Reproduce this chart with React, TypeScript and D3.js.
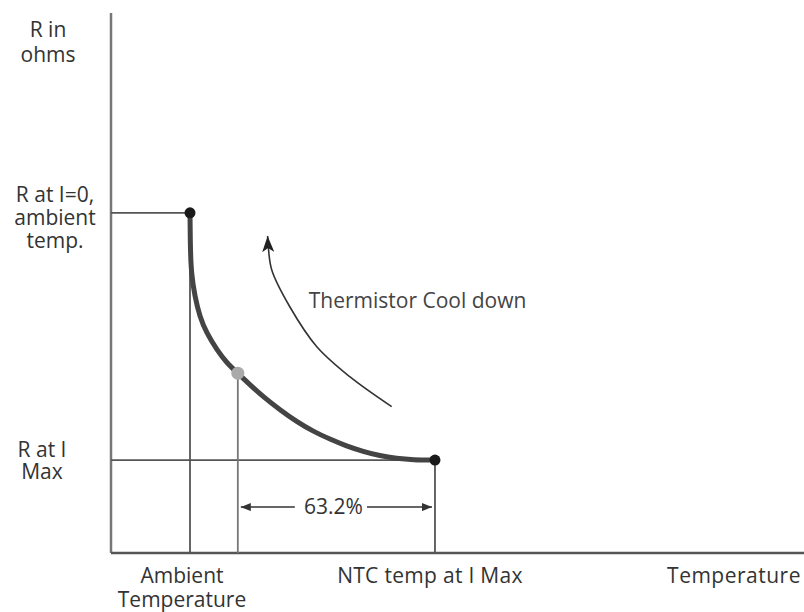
import React from 'react';
import * as d3 from 'd3';

// Normalised units: temperature 0..100 along x, resistance 0..100 along y
const curveTemp = [11.4, 11.45, 11.6, 12.1, 12.8, 13.8, 15.3, 16.7, 18.3, 20.1, 22.0, 24.4, 26.8, 29.2, 31.6, 34.0, 36.4, 38.8, 41.2, 43.6, 46.75];
const curveRes = [63.0, 56.1, 51.7, 47.5, 43.8, 40.7, 37.6, 35.2, 33.3, 31.1, 28.9, 26.5, 24.3, 22.5, 21.1, 19.8, 18.8, 18.0, 17.5, 17.25, 17.2];

const coolTemp = [40.5, 34.5, 29.7, 25.8, 23.2, 22.7, 22.6];
const coolRes = [27.1, 32.6, 38.2, 45.6, 52.4, 56.7, 58.7];

const ambientTemp = 11.4;
const ntcTemp = 46.75;
const tauTemp = 18.3;
const tauRes = 33.3;
const rZero = 63.0;
const rMax = 17.2;
const dimRes = 8.5;

const yLabels = [
  { lines: ['R in', 'ohms'], value: 100, cx: 48, dy: 24, gap: 25 },
  { lines: ['R at I=0,', 'ambient', 'temp.'], value: rZero, cx: 55, dy: -11, gap: 23 },
  { lines: ['R at I', 'Max'], value: rMax, cx: 42, dy: -3, gap: 22 },
];

const width = 804;
const height = 612;
const margin = { top: 13, right: 0, bottom: 59, left: 111 };

const App: React.FC = () => {
  const x = d3.scaleLinear().domain([0, 100]).range([margin.left, width - margin.right]);
  const y = d3.scaleLinear().domain([0, 100]).range([height - margin.bottom, margin.top]);

  const line = d3.line<number>()
    .x((_, i) => x(curveTemp[i]))
    .y(d => y(d))
    .curve(d3.curveBasis);

  const coolLine = d3.line<number>()
    .x((_, i) => x(coolTemp[i]))
    .y(d => y(d))
    .curve(d3.curveCatmullRom.alpha(0.5));

  const font = "'Open Sans', sans-serif";
  const textColor = '#333';
  const guide = '#555';

  return (
    <svg width={width} height={height} style={{ position: 'absolute', left: 0, top: 0, background: '#fff' }}
      fontFamily={font} fontSize={21} fill={textColor}>
      <defs>
        <marker id="head" viewBox="0 0 16 12" refX="16" refY="6" markerWidth="16" markerHeight="12"
          markerUnits="userSpaceOnUse" orient="auto">
          <path d="M0,0 L16,6 L0,12 L4,6 Z" fill="#222" />
        </marker>
        <marker id="dim" viewBox="0 0 10 8" refX="10" refY="4" markerWidth="10" markerHeight="8"
          markerUnits="userSpaceOnUse" orient="auto">
          <path d="M0,0 L10,4 L0,8 Z" fill="#333" />
        </marker>
      </defs>

      {/* axes */}
      <line x1={x(0)} x2={x(0)} y1={y(0)} y2={y(100)} stroke="#777" strokeWidth={2.5} />
      <line x1={x(0)} x2={x(100)} y1={y(0)} y2={y(0)} stroke="#555" strokeWidth={2.5} />

      {/* guides */}
      <line x1={x(0)} x2={x(ambientTemp)} y1={y(rZero)} y2={y(rZero)} stroke={guide} strokeWidth={1.8} />
      <line x1={x(0)} x2={x(ntcTemp)} y1={y(rMax)} y2={y(rMax)} stroke={guide} strokeWidth={1.8} />
      <line x1={x(ambientTemp)} x2={x(ambientTemp)} y1={y(rZero)} y2={y(0)} stroke={guide} strokeWidth={1.8} />
      <line x1={x(tauTemp)} x2={x(tauTemp)} y1={y(tauRes)} y2={y(0)} stroke="#777" strokeWidth={1.8} />
      <line x1={x(ntcTemp)} x2={x(ntcTemp)} y1={y(rMax)} y2={y(0)} stroke={guide} strokeWidth={1.8} />

      {/* resistance curve */}
      <path d={line(curveRes) ?? ''} fill="none" stroke="#444" strokeWidth={5} strokeLinecap="round" />
      <circle cx={x(ambientTemp)} cy={y(rZero)} r={5.5} fill="#1a1a1a" />
      <circle cx={x(ntcTemp)} cy={y(rMax)} r={5.5} fill="#1a1a1a" />
      <circle cx={x(tauTemp)} cy={y(tauRes)} r={6.5} fill="#aaa" />

      {/* cool down arrow */}
      <path d={coolLine(coolRes) ?? ''} fill="none" stroke="#333" strokeWidth={1.6} markerEnd="url(#head)" />
      <text x={x(coolTemp[3]) + 19} y={y(coolRes[3]) + 1} fill="#444">
        Thermistor Cool down
      </text>

      {/* 63.2% dimension */}
      <line x1={x(tauTemp) + 57} x2={x(tauTemp) + 3} y1={y(dimRes)} y2={y(dimRes)} stroke="#333" strokeWidth={1.5} markerEnd="url(#dim)" />
      <line x1={x(ntcTemp) - 68} x2={x(ntcTemp) - 3} y1={y(dimRes)} y2={y(dimRes)} stroke="#333" strokeWidth={1.5} markerEnd="url(#dim)" />
      <text x={(x(tauTemp) + x(ntcTemp)) / 2 - 3} y={y(dimRes) + 7} textAnchor="middle">
        63.2%
      </text>

      {/* y labels */}
      {yLabels.map(l => (
        <text key={l.lines[0]} x={l.cx} y={y(l.value) + l.dy} textAnchor="middle">
          {l.lines.map((s, i) => (
            <tspan key={s} x={l.cx} dy={i === 0 ? 0 : l.gap}>{s}</tspan>
          ))}
        </text>
      ))}

      {/* x labels */}
      <text x={x(ambientTemp) - 8} y={y(0) + 30} textAnchor="middle">
        <tspan x={x(ambientTemp) - 8} dy={0}>Ambient</tspan>
        <tspan x={x(ambientTemp) - 8} dy={24}>Temperature</tspan>
      </text>
      <text x={x(ntcTemp) - 5} y={y(0) + 30} textAnchor="middle" letterSpacing={0.3}>NTC temp at I Max</text>
      <text x={x(100) - 3} y={y(0) + 30} textAnchor="end" letterSpacing={0.5}>Temperature</text>
    </svg>
  );
};

export default App;
